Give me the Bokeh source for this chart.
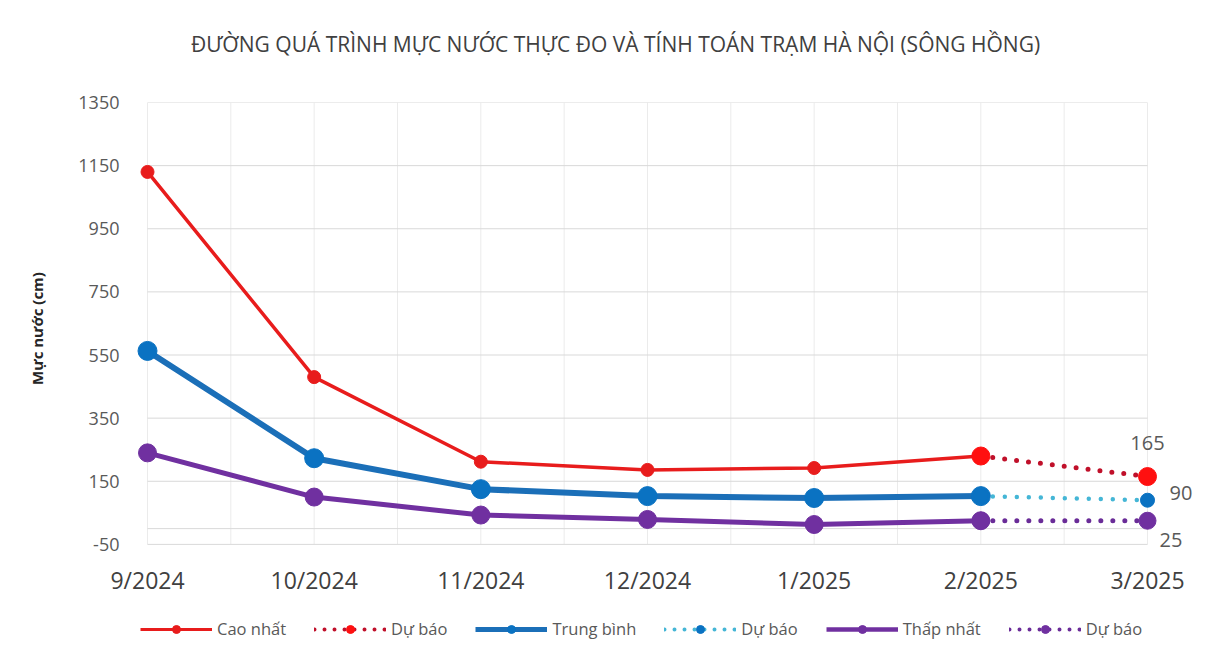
import numpy as np
from bokeh.plotting import figure
from bokeh.layouts import column
from bokeh.models import Range1d, FixedTicker, Legend, LegendItem, Label
from bokeh.embed import file_html
from bokeh.resources import INLINE

# ---------------- data ----------------
months = ["9/2024", "10/2024", "11/2024", "12/2024", "1/2025", "2/2025", "3/2025"]
obs_months = months[:6]
fc_months = months[5:]

max_obs = [1130, 480, 212, 186, 192, 230]   # Cao nhất
max_fc = [230, 165]                          # Dự báo
avg_obs = [563, 223, 125, 103, 97, 103]      # Trung bình
avg_fc = [103, 90]                           # Dự báo
min_obs = [240, 100, 43, 29, 13, 25]         # Thấp nhất
min_fc = [25, 25]                            # Dự báo

y_ticks = [-50, 150, 350, 550, 750, 950, 1150, 1350]

title_text = "ĐƯỜNG QUÁ TRÌNH MỰC NƯỚC THỰC ĐO VÀ TÍNH TOÁN TRẠM HÀ NỘI (SÔNG HỒNG)"
y_title = "Mực nước (cm)"
legend_labels = ["Cao nhất", "Dự báo", "Trung bình", "Dự báo", "Thấp nhất", "Dự báo"]

# ---------------- helpers ----------------
idx = {m: i for i, m in enumerate(months)}
x_obs = [idx[m] for m in obs_months]
x_fc = [idx[m] for m in fc_months]
n_last = len(months) - 1

FONT = "Open Sans"
W = 1210
LEFT, RIGHT = 127, 5
RED, RED_DOT, RED_MK = "#e81c1c", "#c0102a", "#ff1010"
BLUE, BLUE_DOT, BLUE_MK = "#1b6fb8", "#45b6d6", "#0a72c2"
PURPLE, PURPLE_DOT = "#7030a0", "#6a2c98"


def bare(fig):
    fig.xgrid.visible = False
    fig.ygrid.visible = False
    fig.outline_line_color = None
    fig.background_fill_color = "white"
    fig.border_fill_color = "white"
    return fig


# ---------------- title strip ----------------
pt = bare(figure(width=W, height=80, output_backend="svg", toolbar_location=None,
                 x_range=Range1d(LEFT, W - RIGHT), y_range=Range1d(0, 80),
                 x_axis_location=None, y_axis_location=None,
                 min_border_left=LEFT, min_border_right=RIGHT,
                 min_border_top=0, min_border_bottom=0))
pt.add_layout(Label(x=615, y=37, text=title_text, text_align="center",
                    text_baseline="middle", text_font=FONT, text_font_size="21px",
                    text_color="#404040"))

# ---------------- main chart ----------------
p = bare(figure(width=W, height=520, output_backend="svg", toolbar_location=None,
                x_range=Range1d(-0.12, 6.348), y_range=Range1d(-82, y_ticks[-1]),
                min_border_left=LEFT, min_border_right=RIGHT, min_border_top=22,
                min_border_bottom=46))

# gridlines (from the tick arrays)
vx = list(np.arange(0, n_last + 0.01, 0.5))
p.segment(x0=vx, x1=vx, y0=[y_ticks[0]] * len(vx), y1=[y_ticks[-1]] * len(vx),
          line_color="#ebebeb", line_width=1)
p.segment(x0=[0] * len(y_ticks), x1=[n_last] * len(y_ticks), y0=y_ticks, y1=y_ticks,
          line_color="#d9d9d9", line_width=1)
p.segment(x0=[0], x1=[n_last], y0=[0], y1=[0], line_color="#d9d9d9", line_width=1)

# series
p.line(x_obs, max_obs, line_color=RED, line_width=3.5)
p.scatter(x_obs, max_obs, size=13, fill_color=RED, line_color=RED)
p.line(x_fc, max_fc, line_color=RED_DOT, line_width=5, line_dash="0 12", line_cap="round")
p.scatter(x_fc, max_fc, size=18, fill_color=RED_MK, line_color=RED_MK)

p.line(x_obs, avg_obs, line_color=BLUE, line_width=6)
p.scatter(x_obs, avg_obs, size=19, fill_color=BLUE_MK, line_color=BLUE_MK)
p.line(x_fc, avg_fc, line_color=BLUE_DOT, line_width=4.5, line_dash="0 12", line_cap="round")
p.scatter(x_fc, avg_fc, size=14, fill_color=BLUE_MK, line_color=BLUE_MK)

p.line(x_obs, min_obs, line_color=PURPLE, line_width=5)
p.scatter(x_obs, min_obs, size=18, fill_color=PURPLE, line_color=PURPLE)
p.line(x_fc, min_fc, line_color=PURPLE_DOT, line_width=5, line_dash="0 12", line_cap="round")
p.scatter(x_fc, min_fc, size=17, fill_color=PURPLE, line_color=PURPLE)

# axes
p.xaxis.ticker = FixedTicker(ticks=list(range(len(months))))
p.xaxis.major_label_overrides = {i: m for i, m in enumerate(months)}
p.xaxis.axis_line_color = None
p.xaxis.major_tick_line_color = None
p.xaxis.minor_tick_line_color = None
p.xaxis.major_label_standoff = 3
p.xaxis.major_label_text_font = FONT
p.xaxis.major_label_text_font_size = "23px"
p.xaxis.major_label_text_color = "#404040"

p.yaxis.ticker = FixedTicker(ticks=y_ticks)
p.yaxis.major_label_overrides = {t: str(t) for t in y_ticks}
p.yaxis.axis_line_color = None
p.yaxis.major_tick_line_color = None
p.yaxis.minor_tick_line_color = None
p.yaxis.major_label_standoff = 2
p.yaxis.major_label_text_font = FONT
p.yaxis.major_label_text_font_size = "18px"
p.yaxis.major_label_text_color = "#595959"
p.yaxis.axis_label = y_title
p.yaxis.axis_label_text_font = FONT
p.yaxis.axis_label_text_font_style = "bold"
p.yaxis.axis_label_text_font_size = "15px"
p.yaxis.axis_label_text_color = "#262626"
p.yaxis.axis_label_standoff = 28

# end-point value labels
lab_kw = dict(text_font=FONT, text_font_size="20px", text_color="#595959")
p.add_layout(Label(x=n_last, y=max_fc[-1], text=str(max_fc[-1]), text_align="center",
                   text_baseline="bottom", y_offset=27, **lab_kw))
p.add_layout(Label(x=n_last, y=avg_fc[-1], text=str(avg_fc[-1]), text_align="left",
                   text_baseline="middle", x_offset=22, y_offset=7, **lab_kw))
p.add_layout(Label(x=n_last, y=min_fc[-1], text=str(min_fc[-1]), text_align="left",
                   text_baseline="middle", x_offset=12, y_offset=-19, **lab_kw))

# ---------------- legend strip ----------------
# the strip's y range lies below every value, so its copies of the series stay
# out of view and serve only as legend glyphs
pl = bare(figure(width=W, height=60, output_backend="svg", toolbar_location=None,
                 x_range=Range1d(0, n_last), y_range=Range1d(0, 1),
                 x_axis_location=None, y_axis_location=None,
                 min_border_left=LEFT, min_border_right=RIGHT,
                 min_border_top=0, min_border_bottom=0))
series = [(x_obs, max_obs), (x_fc, max_fc), (x_obs, avg_obs),
          (x_fc, avg_fc), (x_obs, min_obs), (x_fc, min_fc)]
styles = [
    (dict(line_color=RED, line_width=3), dict(size=8, color=RED)),
    (dict(line_color=RED_DOT, line_width=4, line_dash="0 10", line_cap="round"), dict(size=11, color=RED_MK)),
    (dict(line_color=BLUE, line_width=5), dict(size=9, color=BLUE_MK)),
    (dict(line_color=BLUE_DOT, line_width=4, line_dash="0 10", line_cap="round"), dict(size=12, color=BLUE_MK)),
    (dict(line_color=PURPLE, line_width=4.5), dict(size=9, color=PURPLE)),
    (dict(line_color=PURPLE_DOT, line_width=4, line_dash="0 10", line_cap="round"), dict(size=12, color=PURPLE)),
]
items = []
for lab, (xs, ys), (ls, ms) in zip(legend_labels, series, styles):
    rl = pl.line(xs, ys, **ls)
    rs = pl.scatter(xs, ys, **ms)
    items.append(LegendItem(label=lab, renderers=[rl, rs]))

legend = Legend(items=items, orientation="horizontal", location=(13, 20),
                glyph_width=72, glyph_height=20, label_standoff=5, spacing=28,
                padding=0, margin=0, border_line_color=None, background_fill_alpha=0,
                label_text_font=FONT, label_text_font_size="16.5px",
                label_text_color="#595959")
pl.add_layout(legend)

layout = column(pt, p, pl, spacing=0)
open("out.html", "w").write(file_html(layout, INLINE))
